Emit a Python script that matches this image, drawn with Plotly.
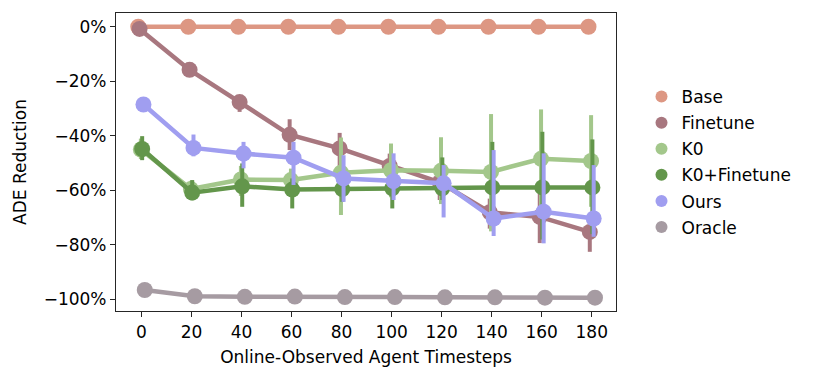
import plotly.graph_objects as go

steps = [0, 20, 40, 60, 80, 100, 120, 140, 160, 180]
y_ticks = [0, -20, -40, -60, -80, -100]
y_labels = ["0%", "−20%", "−40%", "−60%", "−80%", "−100%"]

# mean ADE reduction (%) and confidence bounds per method
base = [0.0, 0.0, 0.0, 0.0, 0.0, 0.0, 0.0, 0.0, 0.0, 0.0]
finetune = [-0.8, -15.8, -27.6, -39.6, -44.6, -51.0, -57.0, -68.0, -69.7, -75.2]
finetune_hi = [-0.3, -14.5, -25.3, -33.9, -38.9, -46.5, -54.4, -63.0, -60.0, -69.0]
finetune_lo = [-1.3, -17.0, -31.2, -45.2, -51.0, -56.0, -63.5, -74.0, -79.3, -82.5]
k0 = [-45.0, -59.5, -56.0, -56.2, -53.5, -52.6, -52.8, -53.2, -48.4, -49.2]
k0_hi = [-41.0, -56.5, -51.0, -52.0, -40.6, -42.8, -40.5, -32.0, -30.3, -32.4]
k0_lo = [-48.5, -63.0, -62.0, -62.0, -69.0, -62.5, -65.0, -75.0, -67.0, -66.0]
k0_finetune = [-44.8, -60.8, -58.5, -59.7, -59.5, -59.2, -59.2, -58.9, -58.9, -58.9]
k0_finetune_hi = [-40.1, -56.2, -50.1, -55.6, -53.0, -55.0, -47.9, -42.2, -38.5, -41.3]
k0_finetune_lo = [-48.9, -63.6, -66.0, -66.6, -64.2, -66.6, -63.5, -73.0, -78.0, -76.0]
ours = [-28.5, -44.4, -46.5, -48.0, -55.6, -56.6, -57.4, -70.3, -67.8, -70.3]
ours_hi = [-27.5, -39.5, -42.2, -42.2, -47.1, -46.4, -50.7, -45.2, -46.4, -50.7]
ours_lo = [-29.5, -47.5, -51.9, -58.0, -64.2, -63.5, -69.9, -76.7, -79.4, -77.0]
oracle = [-96.5, -98.8, -99.0, -98.9, -99.1, -99.1, -99.2, -99.2, -99.3, -99.3]

methods = ["Base", "Finetune", "K0", "K0+Finetune", "Ours", "Oracle"]
colors = ["#dd9783", "#a8777f", "#a3c78b", "#63964b", "#a09ef0", "#a69ba2"]

series = [
    (base, None, None),
    (finetune, finetune_hi, finetune_lo),
    (k0, k0_hi, k0_lo),
    (k0_finetune, k0_finetune_hi, k0_finetune_lo),
    (ours, ours_hi, ours_lo),
    (oracle, None, None),
]

font = "DejaVu Sans"
fig = go.Figure()

n = len(methods)
for i, (name, color, (mean, hi, lo)) in enumerate(zip(methods, colors, series)):
    # small seaborn-style dodge between hues
    shift = (i - (n - 1) / 2) * 0.52
    xs = [s + shift for s in steps]
    err = None
    if hi is not None:
        err = dict(
            type="data",
            symmetric=False,
            array=[h - m for h, m in zip(hi, mean)],
            arrayminus=[m - l for m, l in zip(mean, lo)],
            color=color,
            thickness=4,
            width=0,
        )
    fig.add_trace(
        go.Scatter(
            x=xs,
            y=mean,
            mode="lines+markers",
            line=dict(color=color, width=4.5),
            marker=dict(color=color, size=16),
            error_y=err,
            showlegend=False,
            legendgroup=name,
        )
    )
    # legend entry: dot only
    fig.add_trace(
        go.Scatter(
            x=[None],
            y=[None],
            mode="markers",
            marker=dict(color=color, size=15),
            name=name,
            legendgroup=name,
        )
    )

axis_common = dict(
    showline=True,
    linecolor="#262626",
    linewidth=1.2,
    mirror=True,
    ticks="outside",
    ticklen=5,
    tickwidth=1,
    tickcolor="#262626",
    showgrid=False,
    zeroline=False,
    tickfont=dict(family=font, size=17, color="black"),
)

# the page body adds an 8px offset, so margins are shifted to compensate
fig.update_layout(
    width=830,
    height=379,
    margin=dict(l=108, r=222, t=5, b=76),
    plot_bgcolor="white",
    paper_bgcolor="white",
    font=dict(family=font, size=17, color="black"),
    xaxis=dict(
        **axis_common,
        range=[-10.2, 189.7],
        tickvals=steps,
        title=dict(text="Online-Observed Agent Timesteps", font=dict(size=17), standoff=10),
    ),
    yaxis=dict(
        **axis_common,
        range=[-104.2, 5.05],
        tickvals=y_ticks,
        ticktext=y_labels,
        title=dict(text="ADE Reduction", font=dict(size=17), standoff=12),
    ),
    legend=dict(
        x=1.051,
        y=0.5,
        xanchor="left",
        yanchor="middle",
        font=dict(family=font, size=17),
        itemsizing="constant",
        tracegroupgap=1,
        bgcolor="rgba(0,0,0,0)",
    ),
)

fig.write_html("out.html")
